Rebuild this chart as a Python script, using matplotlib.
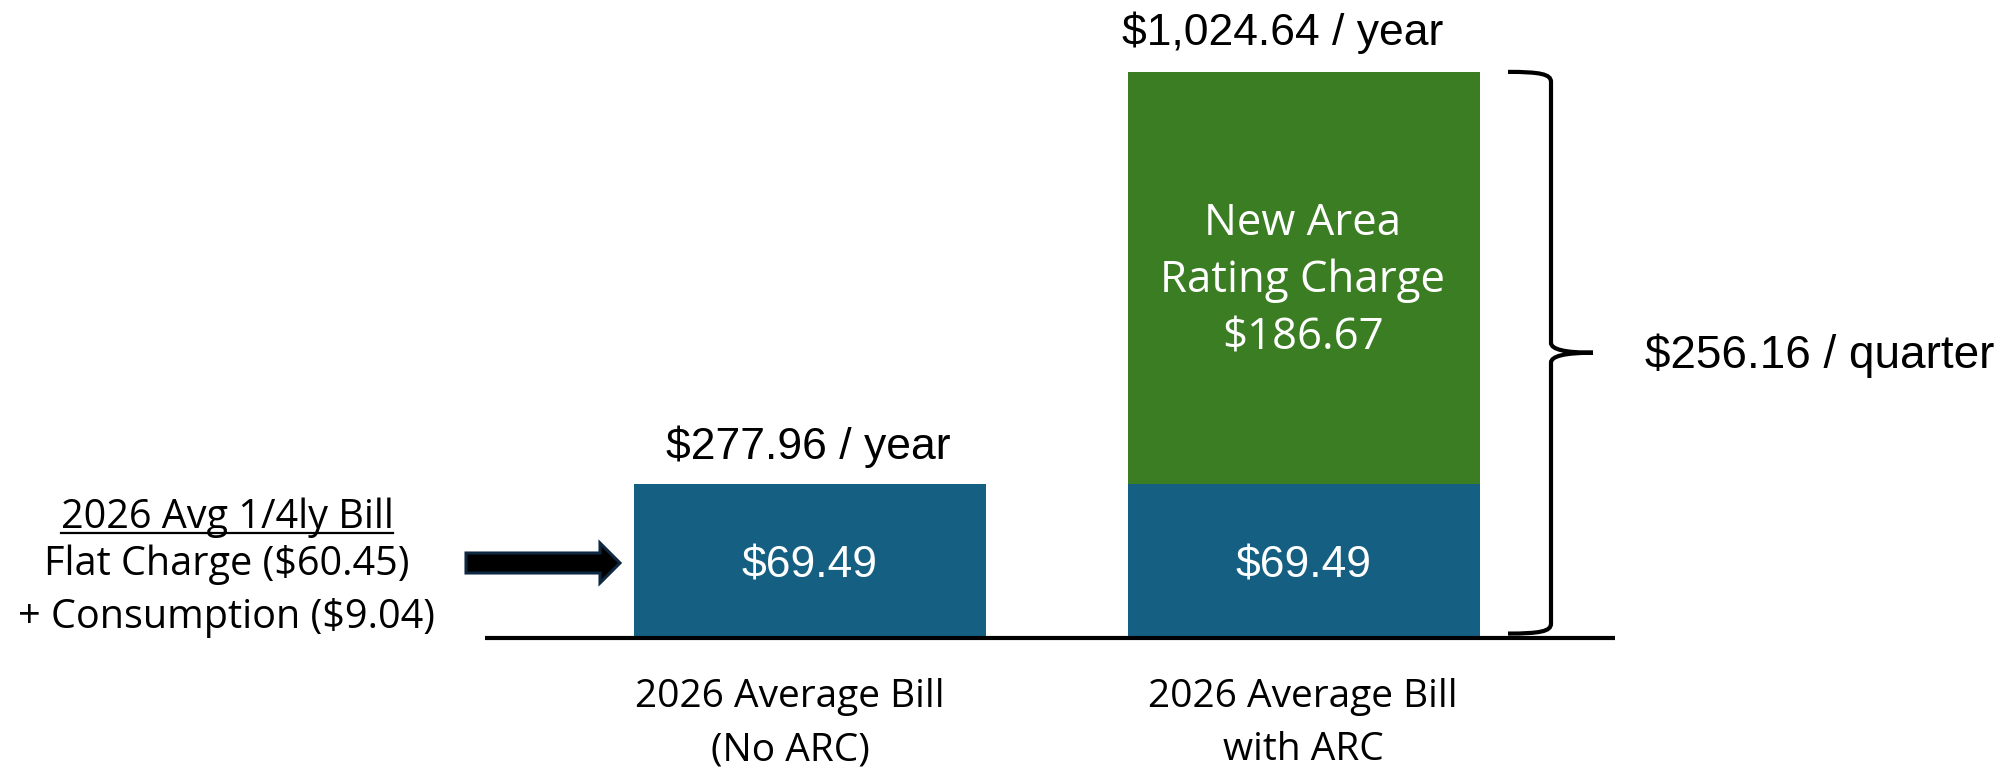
import matplotlib
matplotlib.use("Agg")
import matplotlib.pyplot as plt
from matplotlib.path import Path
from matplotlib.patches import PathPatch, Polygon
from matplotlib.transforms import Affine2D

# ---------------- data ----------------
categories = ["2026 Average Bill\n(No ARC)", "2026 Average Bill\nwith ARC"]
base_quarterly = [69.49, 69.49]          # flat charge + consumption
arc_quarterly = [0.0, 186.67]            # new area rating charge
flat_charge = 60.45
consumption = 9.04
left_title = "2026 Avg 1/4ly Bill"

BLUE = "#156082"
GREEN = "#3B7D23"
ARROW_EDGE = "#0E2841"

ARIAL = ["Liberation Sans", "DejaVu Sans"]
APTOS = ["Open Sans", "DejaVu Sans"]

W, H = 2014, 768
fig = plt.figure(figsize=(W / 100, H / 100), dpi=100)
ax = fig.add_axes([0, 0, 1, 1])
ax.set_axis_off()

# axes scaling: 494 px per category, 2.21 px per dollar, baseline at 638 px from top
px_per_cat = 494.0
px_per_usd = 2.21
x0_px = 810.0
base_px = 638.0
ax.set_xlim(-x0_px / px_per_cat, (W - x0_px) / px_per_cat)
ax.set_ylim(-(H - base_px) / px_per_usd, base_px / px_per_usd)

# transform for layout in pixels from top-left
tpx = Affine2D().scale(1.0 / W, -1.0 / H).translate(0, 1) + fig.transFigure

xs = list(range(len(categories)))
width = 352 / px_per_cat
ax.bar(xs, base_quarterly, width=width, color=BLUE, zorder=2)
ax.bar(xs, arc_quarterly, width=width, bottom=base_quarterly, color=GREEN, zorder=2)

# baseline
ax.plot([(485 - x0_px) / px_per_cat, (1615 - x0_px) / px_per_cat], [0, 0],
        color="black", lw=3.0, solid_capstyle="butt", zorder=3)

totals = [b + a for b, a in zip(base_quarterly, arc_quarterly)]

# annual labels
ax.text(808.5, 459, f"${totals[0] * 4:,.2f} / year", transform=tpx, ha="center",
        va="baseline", fontsize=32, family=ARIAL, color="black")
ax.text(1282.5, 45, f"${totals[1] * 4:,.2f} / year", transform=tpx, ha="center",
        va="baseline", fontsize=32, family=ARIAL, color="black")

# in-bar values
ax.text(809.5, 577, f"${base_quarterly[0]:.2f}", transform=tpx, ha="center",
        va="baseline", fontsize=32, family=ARIAL, color="white", zorder=4)
ax.text(1304, 578, f"${base_quarterly[1]:.2f}", transform=tpx, ha="center",
        va="baseline", fontsize=32, family=ARIAL, color="white", zorder=4)
for txt, yb in zip(["New Area", "Rating Charge", f"${arc_quarterly[1]:.2f}"], [235, 292, 350]):
    ax.text(1303, yb, txt, transform=tpx, ha="center", va="baseline",
            fontsize=31.5, family=APTOS, color="white", zorder=4)

# category labels
for cx_, lab in zip([790, 1303], categories):
    l1, l2 = lab.split("\n")
    ax.text(cx_, 707, l1, transform=tpx, ha="center", va="baseline",
            fontsize=28, family=APTOS, color="black")
    ax.text(cx_, 760, l2, transform=tpx, ha="center", va="baseline",
            fontsize=28, family=APTOS, color="black")

# left explanation
t1 = ax.text(227, 528, left_title, transform=tpx, ha="center", va="baseline",
             fontsize=28.5, family=APTOS, color="black")
ax.text(227, 575, f"Flat Charge (${flat_charge:.2f})", transform=tpx, ha="center",
        va="baseline", fontsize=28.5, family=APTOS, color="black")
ax.text(227, 628, f"+ Consumption (${consumption:.2f})", transform=tpx, ha="center",
        va="baseline", fontsize=28.5, family=APTOS, color="black")
fig.canvas.draw()
bb = t1.get_window_extent()
ax.plot([bb.x0 / W, bb.x1 / W], [1 - 533 / H, 1 - 533 / H], transform=fig.transFigure,
        color="black", lw=1.6)

# arrow
arrow_pts = [(466, 553), (600, 553), (600, 543), (620, 563), (600, 583), (600, 573), (466, 573)]
ax.add_patch(Polygon(arrow_pts, closed=True, transform=tpx, facecolor="black",
                     edgecolor=ARROW_EDGE, lw=2.2, joinstyle="miter", zorder=4))

# brace (x in category units, y in dollars)
def cx(px):
    return (px - x0_px) / px_per_cat

top = totals[1]
bot = 2.0
mid = (top + bot) / 2
r = 4.5
xl, xv, xt = cx(1508), cx(1551), cx(1593)
verts = [
    (xl, top), (cx(1540), top), (xv, top - 1.0), (xv, top - r),
    (xv, mid + r), (xv, mid + 1.5), (cx(1565), mid), (xt, mid),
    (cx(1565), mid), (xv, mid - 1.5), (xv, mid - r),
    (xv, bot + r), (xv, bot + 1.0), (cx(1540), bot), (xl, bot),
]
codes = [Path.MOVETO, Path.CURVE4, Path.CURVE4, Path.CURVE4,
         Path.LINETO, Path.CURVE4, Path.CURVE4, Path.CURVE4,
         Path.CURVE4, Path.CURVE4, Path.CURVE4,
         Path.LINETO, Path.CURVE4, Path.CURVE4, Path.CURVE4]
ax.add_patch(PathPatch(Path(verts, codes), facecolor="none", edgecolor="black",
                       lw=3.0, capstyle="butt", zorder=3))

ax.text(1645, 368, f"${totals[1]:.2f} / quarter", transform=tpx, ha="left",
        va="baseline", fontsize=33, family=ARIAL, color="black")

fig.savefig("out.png", dpi=100)
